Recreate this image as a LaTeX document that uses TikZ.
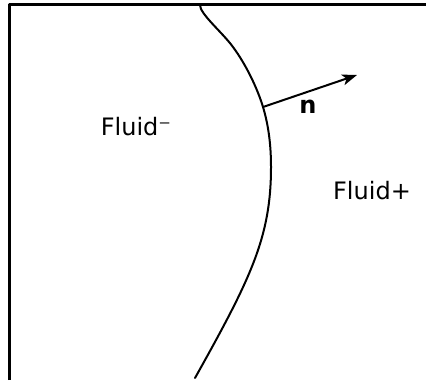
\documentclass[tikz,border=0pt]{standalone}
\usepackage{fontspec}
\setmainfont{DejaVu Sans}
\usetikzlibrary{arrows.meta}

\begin{document}
\begin{tikzpicture}[x=1pt, y=-1pt, >={Stealth[length=15pt, width=11pt, inset=4pt]}, line cap=round, line join=round]
	
	\tikzset{
		frame/.style={line width=2.2pt, line cap=butt},
		iface/.style={line width=2pt},
		normalv/.style={->, line width=2pt},
		lab/.style={font=\fontsize{24}{28}\selectfont, inner sep=0pt},
	}
	
	\useasboundingbox (0,0) rectangle (427,380);
	
	% --- domain border (top and left)
	\draw[frame] (9.5,380) -- (9.5,4.5) -- (426,4.5);
	
	% --- interface between the two fluids
	\draw[iface] (200,5) .. controls (200,14) and (222,32) .. (233,47)
		.. controls (246.3,65) and (257.6,89) .. (263,107)
		.. controls (269,127) and (271,147) .. (271,167)
		.. controls (271,237) and (251,278) .. (195,378);
	
	% --- normal vector
	\coordinate (foot) at (263,107);
	\coordinate (tip) at (357,75);
	\draw[normalv] (foot) -- (tip);
	\node[lab, font=\fontsize{24}{28}\selectfont\bfseries] (nlab) at (308,107) {n};
	
	% --- fluid labels
	\node[lab] (minus) at (136,127) {Fluid⁻};
	\node[lab] (plus) at (372,191) {Fluid+};
	
\end{tikzpicture}
\end{document}
